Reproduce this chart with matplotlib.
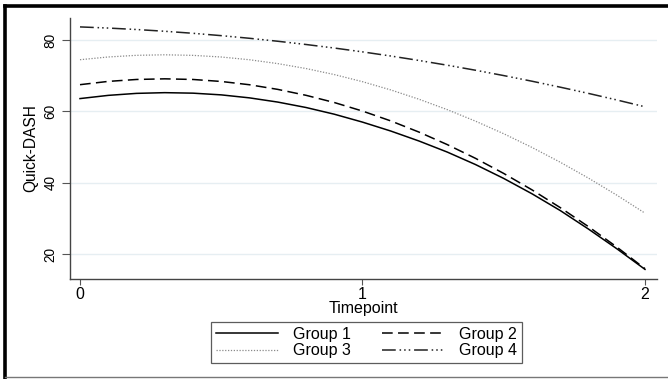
#!/usr/bin/env python
"""Quick-DASH trajectories by group over three timepoints."""

import matplotlib
matplotlib.use("Agg")
import matplotlib.pyplot as plt
from matplotlib.lines import Line2D

plt.rcParams["font.family"] = ["Liberation Sans", "DejaVu Sans"]

# values at steps of 0.1
TIME = [0.0, 0.1, 0.2, 0.3, 0.4, 0.5, 0.6, 0.7, 0.8, 0.9, 1.0,
        1.1, 1.2, 1.3, 1.4, 1.5, 1.6, 1.7, 1.8, 1.9, 2.0]
GROUP_1 = [63.6, 64.5, 65.06, 65.26, 65.12, 64.64, 63.8, 62.62, 61.1, 59.22, 57.0,
           54.5, 51.7, 48.6, 45.1, 41.2, 36.9, 32.2, 27.0, 21.5, 15.7]
GROUP_2 = [67.5, 68.42, 68.96, 69.14, 68.96, 68.4, 67.48, 66.18, 64.52, 62.5, 60.1,
           57.34, 54.2, 50.7, 46.84, 42.6, 38.0, 33.02, 27.68, 21.98, 15.9]
GROUP_3 = [74.5, 75.27, 75.73, 75.88, 75.72, 75.26, 74.49, 73.41, 72.03, 70.34, 68.34,
           66.03, 63.42, 60.5, 57.27, 53.74, 49.9, 45.75, 41.29, 36.53, 31.46]
GROUP_4 = [83.7, 83.38, 82.97, 82.48, 81.91, 81.25, 80.51, 79.68, 78.77, 77.78, 76.7,
           75.54, 74.29, 72.96, 71.55, 70.05, 68.47, 66.8, 65.05, 63.22, 61.3]

LABELS = ["Group 1", "Group 2", "Group 3", "Group 4"]
X_TICKS = [0, 1, 2]
Y_TICKS = [20, 40, 60, 80]

W, H = 668, 379
FS_H = 11.5   # horizontal text
FS_V = 9.8    # rotated tick text


def main():
    fig = plt.figure(figsize=(W / 100, H / 100), dpi=100)
    fig.patch.set_facecolor("white")

    # outer frame (cropped graph border)
    fig.add_artist(Line2D([5 / W, 1], [1 - 6 / H, 1 - 6 / H], color="black", lw=2.6))
    fig.add_artist(Line2D([5 / W, 5 / W], [0, 1 - 6 / H], color="black", lw=2.6))
    fig.add_artist(Line2D([5 / W, 1], [2 / H, 2 / H], color="#777777", lw=1.0))

    ax = fig.add_axes([70 / W, (H - 279) / H, (657 - 70) / W, (279 - 18) / H])

    styles = [
        dict(color="black", lw=1.1, linestyle="-"),
        dict(color="black", lw=1.1, linestyle=(0, (7, 3.5))),
        dict(color="#8a8a8a", lw=0.9, linestyle=(0, (1, 1.3))),
        dict(color="#222222", lw=1.1, linestyle=(0, (9, 2.5, 1, 2, 1, 2, 1, 2.5))),
    ]
    for ys, lab, st in zip([GROUP_1, GROUP_2, GROUP_3, GROUP_4], LABELS, styles):
        ax.plot(TIME, ys, label=lab, **st)

    ax.set_xlim(-0.0354, 2.0425)
    ax.set_ylim(13.0, 86.2)
    ax.set_xticks(X_TICKS)
    ax.set_xticklabels([str(t) for t in X_TICKS], fontsize=FS_H)
    ax.set_yticks(Y_TICKS)
    ax.set_yticklabels([str(t) for t in Y_TICKS], fontsize=FS_V, rotation=90, va="center")
    ax.tick_params(axis="x", length=4, width=0.8, color="#555555", pad=2)
    ax.tick_params(axis="y", length=6, width=0.8, color="#555555", pad=3)

    ax.grid(axis="y", color="#e6eef2", lw=1.0)
    ax.set_axisbelow(True)
    for side in ("top", "right"):
        ax.spines[side].set_visible(False)
    for side in ("left", "bottom"):
        ax.spines[side].set_color("#444444")
        ax.spines[side].set_linewidth(1.0)

    ax.set_xlabel("Timepoint", fontsize=FS_H, labelpad=-1)
    ax.set_ylabel("Quick-DASH", fontsize=11.2, labelpad=4)

    handles, labels = ax.get_legend_handles_labels()
    order = [0, 2, 1, 3]
    leg = fig.legend(
        [handles[i] for i in order],
        [labels[i] for i in order],
        ncol=2,
        loc="center",
        bbox_to_anchor=(366.5 / W, 1 - 342.5 / H),
        fontsize=FS_H,
        frameon=True,
        fancybox=False,
        handlelength=3.9,
        handletextpad=0.9,
        columnspacing=2.0,
        labelspacing=0.08,
        borderpad=0.3,
    )
    leg.get_frame().set_edgecolor("#333333")
    leg.get_frame().set_linewidth(0.9)

    fig.savefig("out.png", dpi=100)
    return 0


if __name__ == "__main__":
    raise SystemExit(main())
